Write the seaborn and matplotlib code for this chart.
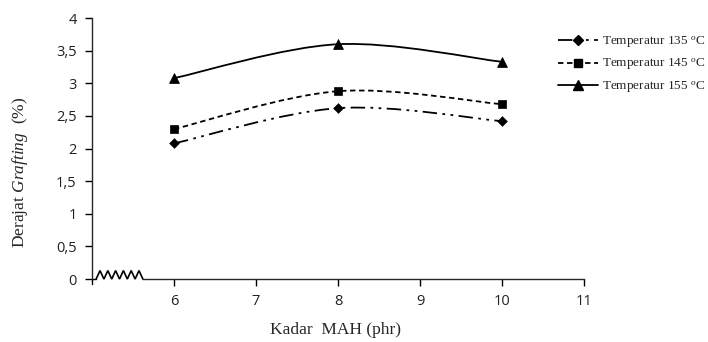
import numpy as np
import pandas as pd
import matplotlib
matplotlib.use("Agg")
import matplotlib.pyplot as plt
import seaborn as sns
from matplotlib.path import Path
from matplotlib.patches import PathPatch
from matplotlib.lines import Line2D

# data
kadar_mah = [6, 8, 10]
temp_135 = [2.08, 2.62, 2.42]
temp_145 = [2.30, 2.88, 2.68]
temp_155 = [3.08, 3.60, 3.33]
labels = ["Temperatur 135 $^{o}$C", "Temperatur 145 $^{o}$C", "Temperatur 155 $^{o}$C"]
y_ticks = [0, 0.5, 1, 1.5, 2, 2.5, 3, 3.5, 4]
y_tick_labels = ["0", "0,5", "1", "1,5", "2", "2,5", "3", "3,5", "4"]
x_ticks = [6, 7, 8, 9, 10, 11]

sns.set_style("ticks")
plt.rcParams["mathtext.fontset"] = "custom"
plt.rcParams["mathtext.rm"] = "Liberation Serif"
plt.rcParams["mathtext.it"] = "Liberation Serif:italic"

df = pd.DataFrame({
    "x": kadar_mah * 3,
    "y": temp_135 + temp_145 + temp_155,
    "series": [labels[0]] * 3 + [labels[1]] * 3 + [labels[2]] * 3,
})

fig = plt.figure(figsize=(7.08, 3.42), dpi=100)
ax = fig.add_axes([0.13, 0.184, 0.695, 0.763])

styles = [(0, (8, 3, 1.5, 3, 1.5, 3)), (0, (3, 2)), "-"]
markers = ["D", "s", "^"]
sizes = [25, 38, 50]


def smooth_path(xs, ys):
    # Excel-style smoothed line: cubic bezier with catmull-rom control points
    pts = np.column_stack([xs, ys]).astype(float)
    ext = np.vstack([pts[0], pts, pts[-1]])
    verts = [pts[0]]
    codes = [Path.MOVETO]
    for i in range(1, len(ext) - 2):
        p0, p1, p2, p3 = ext[i - 1], ext[i], ext[i + 1], ext[i + 2]
        verts += [p1 + (p2 - p0) / 6, p2 - (p3 - p1) / 6, p2]
        codes += [Path.CURVE4] * 3
    return Path(verts, codes)


for i, lab in enumerate(labels):
    sub = df[df["series"] == lab]
    ax.add_patch(PathPatch(smooth_path(sub["x"], sub["y"]), fill=False,
                           edgecolor="black", lw=1.3, linestyle=styles[i]))
    sns.scatterplot(data=sub, x="x", y="y", marker=markers[i], s=sizes[i],
                    color="black", edgecolor="black", ax=ax, legend=False, zorder=3)

ax.set_xlim(5, 11)
ax.set_ylim(0, 4)
ax.set_xticks(x_ticks)
ax.set_xticklabels([str(t) for t in x_ticks])
ax.set_yticks(y_ticks)
ax.set_yticklabels(y_tick_labels)
ax.tick_params(length=5, width=1, colors="black", pad=6)
for lab in ax.get_xticklabels() + ax.get_yticklabels():
    lab.set_fontfamily("Open Sans")
    lab.set_fontsize(10.5)
    lab.set_color("#222222")

sns.despine(ax=ax)
ax.spines["left"].set_linewidth(1)
ax.spines["bottom"].set_bounds(5.62, 11)
ax.spines["bottom"].set_linewidth(1)

# axis break squiggle on the x axis
zx = np.linspace(5.05, 5.62, 13)
zy = [0, 0.13, 0, 0.13, 0, 0.13, 0, 0.13, 0, 0.13, 0, 0.13, 0]
ax.plot(zx, zy, color="black", lw=1.2, clip_on=False, solid_joinstyle="miter")
ax.plot([5, 5.05], [0, 0], color="black", lw=1, clip_on=False)
ax.plot([5, 5], [0, -0.08], color="black", lw=1, clip_on=False)

ax.set_xlabel("Kadar  MAH (phr)", fontfamily="Liberation Serif", fontsize=12.5)
ax.xaxis.set_label_coords(0.494, -0.165)
ax.set_ylabel(r"Derajat $\mathit{Grafting}$  (%)", fontfamily="Liberation Serif",
              fontsize=12.5)
ax.yaxis.set_label_coords(-0.127, 0.41)

handles = [Line2D([], [], color="black", lw=1.3, linestyle=styles[i], marker=markers[i],
                  markersize=[5, 6, 7][i]) for i in range(3)]
leg = fig.legend(handles, labels, loc="upper left", bbox_to_anchor=(0.772, 0.935),
                 frameon=False, prop={"family": "Liberation Serif", "size": 9.5},
                 handlelength=3.0, handletextpad=0.3, labelspacing=0.55)

fig.savefig("out.png", dpi=100)
